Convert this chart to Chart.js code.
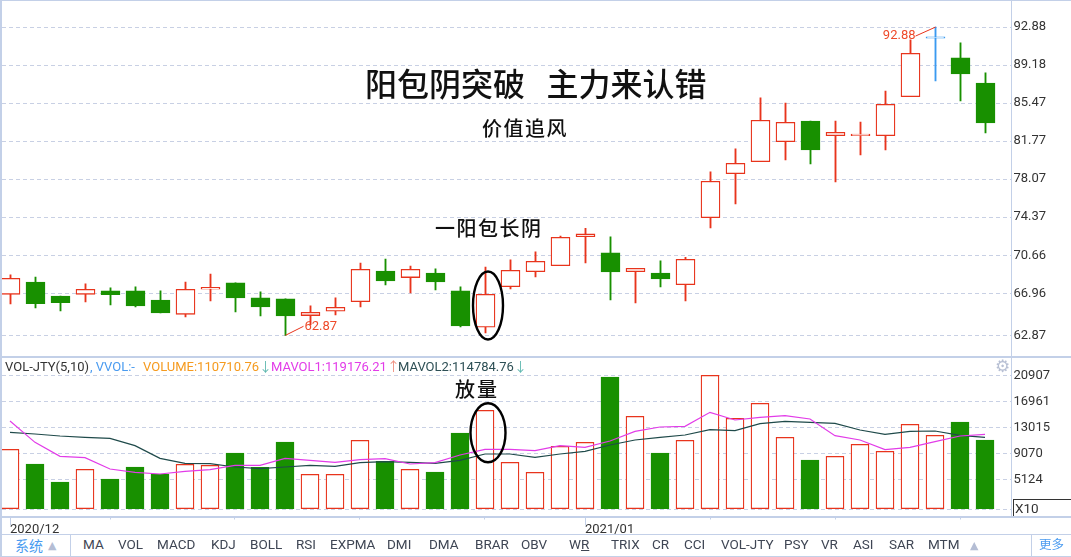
<!DOCTYPE html>
<html>
<head>
<meta charset="utf-8">
<title>VOL-JTY</title>
<script src="https://cdn.jsdelivr.net/npm/chart.js@4"></script>
<style>
    html, body { margin: 0; padding: 0; background: #fff; overflow: hidden; }
    #page { position: relative; width: 1071px; height: 557px; font-family: Roboto, 'Noto Sans CJK SC', sans-serif; color: #333; }
    canvas { position: absolute; left: 0; }
    .rule { position: absolute; background: #c3d0e8; }
    .txt { position: absolute; white-space: pre; line-height: 1; }
    .cjk { font-family: 'Noto Sans CJK SC', sans-serif; color: #111; }
    .legend { font-size: 13px; top: 360px; }
    .tool { font-size: 13.5px; top: 538px; color: #3f4654; }
    .blue { color: #4a9bf0; }
</style>
</head>
<body>
<div id="page">
    <canvas id="price-chart" width="1071" height="357" style="top:0"></canvas>
    <canvas id="volume-chart" width="1071" height="178" style="top:357px"></canvas>

    <div class="rule" style="left:0;top:0;width:1071px;height:1px"></div>
    <div class="rule" style="left:0;top:0;width:2px;height:557px"></div>
    <div class="rule" style="left:0;top:356px;width:1071px;height:2px"></div>
    <div class="rule" style="left:0;top:516px;width:1071px;height:2px"></div>
    <div class="rule" style="left:0;top:534px;width:1071px;height:1px"></div>
    <div class="rule" style="left:0;top:556px;width:1071px;height:1px"></div>
    <div class="rule" style="left:1011px;top:0;width:1px;height:517px"></div>
    <div class="rule" style="left:70px;top:535px;width:1px;height:21px"></div>
    <div class="rule" style="left:1031px;top:535px;width:1px;height:21px"></div>

    <div class="txt cjk" style="left:365px;top:66px;font-size:32px;font-weight:500">阳包阴突破   主力来认错</div>
    <div class="txt cjk" style="left:482px;top:118px;font-size:20px;letter-spacing:1.5px;font-weight:500">价值追风</div>
    <div class="txt cjk" style="left:435px;top:218px;font-size:20px;letter-spacing:1.5px;font-weight:500">一阳包长阴</div>
    <div class="txt cjk" style="left:455px;top:379px;font-size:20px;letter-spacing:2px;font-weight:500">放量</div>

    <div class="txt legend" style="left:5px">VOL-JTY(5,10)</div>
    <div class="txt legend" style="left:90px;color:#4a9bf0">, VVOL:-</div>
    <div class="txt legend" style="left:143px;color:#f59a1e">VOLUME:110710.76<span style="color:#5fb8b0">↓</span></div>
    <div class="txt legend" style="left:271px;color:#e23ce8">MAVOL1:119176.21<span style="color:#f09080">↑</span></div>
    <div class="txt legend" style="left:398px;color:#2d4f55">MAVOL2:114784.76<span style="color:#5fb8b0">↓</span></div>
    <div class="txt" style="left:995px;top:358px;font-size:17px;color:#b8c0d4;font-family:'DejaVu Sans'">⚙</div>

    <div style="position:absolute;left:1013px;top:499px;width:58px;height:17px;border-top:1px solid #333;border-left:1px solid #333;box-sizing:border-box"></div>
    <div class="txt" style="left:1015px;top:502px;font-size:13.5px">X10</div>

    <div class="txt cjk blue" style="left:15px;top:538px;font-size:14px;color:#4a9bf0">系统</div>
    <div class="txt" style="left:48px;top:540px;font-size:11px;color:#b4bdd4;font-family:'DejaVu Sans'">▲</div>
    <div class="txt" style="left:970px;top:540px;font-size:11px;color:#b4bdd4;font-family:'DejaVu Sans'">▲</div>
    <div class="txt cjk blue" style="left:1039px;top:538px;font-size:12.5px;color:#4a9bf0">更多</div>
</div>

<script>
'use strict';

// Daily candles, oldest first
const opens  = [66.86, 68.06, 66.70, 66.86, 67.19, 67.19, 66.31, 64.91, 67.35, 67.97, 66.51, 66.41, 64.79, 65.21, 66.15, 69.13, 68.49, 68.94, 67.19, 63.65,
                67.61, 69.07, 69.65, 72.48, 70.89, 69.07, 68.94, 67.80, 74.33, 78.61, 79.78, 81.73, 83.74, 82.31, 82.31, 82.31, 86.11, 91.79, 89.88, 87.44];
const closes = [68.42, 65.95, 66.05, 67.35, 66.83, 65.73, 65.04, 67.35, 67.54, 66.51, 65.63, 64.75, 65.11, 65.60, 69.30, 68.16, 69.30, 68.06, 63.78, 66.86,
                69.20, 70.08, 72.41, 72.74, 69.04, 69.39, 68.36, 70.27, 77.87, 79.62, 83.81, 83.61, 80.92, 82.64, 82.44, 85.36, 90.33, 91.79, 88.32, 83.55];
const highs  = [68.75, 68.55, 66.70, 67.87, 67.48, 67.58, 67.19, 68.06, 68.84, 67.97, 67.09, 66.41, 65.73, 66.51, 69.91, 70.30, 69.62, 69.33, 67.58, 69.52,
                70.21, 70.99, 72.54, 73.29, 72.45, 69.39, 70.11, 70.47, 78.78, 81.02, 85.98, 85.49, 83.74, 83.74, 83.64, 86.66, 91.63, 92.88, 91.34, 88.42];
const lows   = [65.92, 65.53, 65.24, 66.12, 65.82, 65.63, 65.04, 64.66, 66.21, 65.14, 64.75, 62.87, 63.88, 64.85, 65.63, 67.77, 66.99, 67.28, 63.68, 63.10,
                67.38, 68.55, 69.65, 69.91, 66.31, 66.02, 67.58, 66.21, 73.32, 75.66, 79.78, 79.94, 79.55, 77.80, 80.43, 80.92, 86.11, 87.64, 85.69, 82.57];

// Volume pane
const volumes = [9674, 7447, 4715, 6638, 5170, 6992, 5929, 7397, 7245, 9117, 6941, 10787, 5879, 5879, 11040, 7852, 6638, 6233, 12153, 15594,
                 7700, 6182, 10129, 10736, 20654, 14683, 9117, 11040, 20907, 14380, 16657, 11495, 8055, 8611, 10433, 9370, 13469, 11799, 13823, 11091];
const mavol1  = [13975, 10736, 8611, 8409, 6688, 6182, 5929, 6334, 6587, 7245, 7245, 8308, 8004, 7700, 8105, 8257, 7447, 7650, 8814, 9674,
                 9674, 9471, 10230, 9977, 10939, 12406, 13064, 13165, 15290, 14127, 14531, 14784, 14278, 11748, 11091, 9623, 9977, 10838, 11698, 11951];
const mavol2  = [12254, 12001, 11698, 11495, 11344, 10230, 8308, 7549, 7498, 6992, 6739, 6992, 7245, 7093, 7650, 7802, 7700, 7549, 8004, 8965,
                 8965, 8459, 8965, 9370, 10332, 11091, 11495, 11850, 12659, 12507, 13570, 13924, 13772, 13621, 12609, 11951, 12406, 12457, 11799, 11495];

// Axis ticks
const priceTicks  = [62.87, 66.96, 70.66, 74.37, 78.07, 81.77, 85.47, 89.18, 92.88];
const volumeTicks = [570, 5124, 9070, 13015, 16961, 20907];
const dateTicks   = [0, 4, 9, 14, 19, 23, 28, 33, 38];
const dateLabels  = ['2020/12', '', '', '', '', '2021/01', '', '', ''];

// Bottom toolbar
const toolNames = ['MA', 'VOL', 'MACD', 'KDJ', 'BOLL', 'RSI', 'EXPMA', 'DMI', 'DMA', 'BRAR', 'OBV', 'WR', 'TRIX', 'CR', 'CCI', 'VOL-JTY', 'PSY', 'VR', 'ASI', 'SAR', 'MTM'];
const toolLefts = [83, 118, 157, 211, 250, 296, 330, 387, 429, 475, 521, 569, 611, 652, 684, 721, 784, 821, 853, 889, 928];

// Colours
const RED = '#e8341c';
const GREEN = '#189000';
const BLUE = '#3a9af0';
const GRID = '#c8d0e4';
const LABEL_FONT = { family: 'Roboto', size: 13 };

const page = document.getElementById('page');
toolNames.forEach((name, i) => {
    const el = document.createElement('div');
    el.className = 'txt tool';
    el.style.left = toolLefts[i] + 'px';
    el.innerHTML = name === 'WR' ? 'W<u>R</u>' : name;
    page.appendChild(el);
});

function candleColor(i) {
    if (opens[i] === closes[i]) return BLUE;
    return closes[i] > opens[i] ? RED : GREEN;
}

function fixedTicks(values) {
    return scale => { scale.ticks = values.map(v => ({ value: v })); };
}

// Keep the plot area exact: no room reserved for the first and last tick label
function noLabelPadding(scale) {
    scale.paddingTop = 0;
    scale.paddingBottom = 0;
    scale.paddingLeft = 0;
    scale.paddingRight = 0;
}

// Red labels for the lowest and highest price, with their small leader lines
const extremesPlugin = {
    id: 'extremes',
    afterDatasetsDraw(chart) {
        const { ctx, scales } = chart;
        const lowIdx = lows.indexOf(Math.min(...lows));
        const highIdx = highs.indexOf(Math.max(...highs));
        const lx = scales.x.getPixelForValue(lowIdx), ly = scales.y.getPixelForValue(lows[lowIdx]);
        const hx = scales.x.getPixelForValue(highIdx), hy = scales.y.getPixelForValue(highs[highIdx]);

        ctx.save();
        ctx.strokeStyle = RED;
        ctx.lineWidth = 1;
        ctx.beginPath();
        ctx.moveTo(lx, ly);
        ctx.lineTo(lx + 18, ly - 9);
        ctx.moveTo(hx, hy);
        ctx.lineTo(hx - 20, hy + 9);
        ctx.stroke();

        ctx.fillStyle = '#ee4a2a';
        ctx.font = '13px Roboto';
        ctx.textBaseline = 'middle';
        ctx.textAlign = 'left';
        ctx.fillText(lows[lowIdx].toFixed(2), lx + 19, ly - 9);
        ctx.textAlign = 'right';
        ctx.fillText(highs[highIdx].toFixed(2), hx - 20, hy + 9);
        ctx.restore();
    }
};

// Hand drawn black ellipse on the breakout candle and its volume bar
function ellipsePlugin(cx, cy, rx, ry) {
    return {
        id: 'ellipse',
        afterDatasetsDraw(chart) {
            const ctx = chart.ctx;
            ctx.save();
            ctx.strokeStyle = '#000';
            ctx.lineWidth = 2.4;
            ctx.beginPath();
            ctx.ellipse(cx, cy, rx, ry, 0, 0, Math.PI * 2);
            ctx.stroke();
            ctx.restore();
        }
    };
}

// Date ticks under the volume pane: long where there is a label
const dateTickPlugin = {
    id: 'dateTicks',
    afterDraw(chart) {
        const { ctx, scales, chartArea } = chart;
        ctx.save();
        ctx.strokeStyle = '#c3d0e8';
        ctx.lineWidth = 1;
        dateTicks.forEach((tick, i) => {
            const x = Math.floor(scales.x.getPixelForValue(tick)) + 0.5;
            ctx.beginPath();
            ctx.moveTo(x, chartArea.bottom + 1);
            ctx.lineTo(x, chartArea.bottom + (dateLabels[i] ? 9 : 3));
            ctx.stroke();
        });
        ctx.restore();
    }
};

function yScale(min, max, ticks, format) {
    return {
        position: 'right',
        min: min,
        max: max,
        afterBuildTicks: fixedTicks(ticks),
        afterFit(scale) {
            scale.width = 59.5;
            noLabelPadding(scale);
        },
        grid: { color: GRID, drawTicks: false },
        border: { display: false, dash: [4, 3] },
        ticks: { color: '#333', font: LABEL_FONT, padding: 2, autoSkip: false, callback: format }
    };
}

new Chart(document.getElementById('price-chart'), {
    type: 'bar',
    data: {
        datasets: [
            {
                label: 'body',
                order: 1,
                grouped: false,
                data: opens.map((o, i) => ({ x: i, y: [o, closes[i]] })),
                barThickness: 19,
                minBarLength: 1.5,
                borderWidth: 1.3,
                borderSkipped: false,
                borderColor: opens.map((o, i) => candleColor(i)),
                backgroundColor: opens.map((o, i) => (candleColor(i) === GREEN ? GREEN : '#fff'))
            },
            {
                label: 'wick',
                order: 2,
                grouped: false,
                data: highs.map((h, i) => ({ x: i, y: [lows[i], h] })),
                barThickness: 1.2,
                borderWidth: 0,
                backgroundColor: opens.map((o, i) => candleColor(i))
            }
        ]
    },
    options: {
        responsive: false,
        animation: false,
        layout: { padding: { left: 2, top: 1, right: 0, bottom: 1 } },
        plugins: { legend: { display: false }, tooltip: { enabled: false } },
        scales: {
            x: { type: 'linear', display: false, min: -0.34, max: 40.04, offset: false, grid: { display: false, offset: false } },
            y: yScale(60.854, 95.42, priceTicks, v => Number(v).toFixed(2))
        }
    },
    plugins: [extremesPlugin, ellipsePlugin(488, 305.5, 15, 34)]
});

new Chart(document.getElementById('volume-chart'), {
    type: 'bar',
    data: {
        datasets: [
            {
                type: 'line',
                label: 'MAVOL1',
                order: 1,
                data: mavol1.map((v, i) => ({ x: i, y: v })),
                borderColor: '#e23ce8',
                borderWidth: 1.2,
                pointRadius: 0,
                tension: 0
            },
            {
                type: 'line',
                label: 'MAVOL2',
                order: 2,
                data: mavol2.map((v, i) => ({ x: i, y: v })),
                borderColor: '#1f4a4a',
                borderWidth: 1.2,
                pointRadius: 0,
                tension: 0
            },
            {
                label: 'VOLUME',
                order: 3,
                data: volumes.map((v, i) => ({ x: i, y: v })),
                base: 660,
                barThickness: 18,
                borderWidth: 1.3,
                borderSkipped: false,
                borderColor: volumes.map((v, i) => (closes[i] >= opens[i] ? RED : GREEN)),
                backgroundColor: volumes.map((v, i) => (closes[i] >= opens[i] ? '#fff' : GREEN))
            }
        ]
    },
    options: {
        responsive: false,
        animation: false,
        layout: { padding: { left: 2, top: 1, right: 0, bottom: 0 } },
        plugins: { legend: { display: false }, tooltip: { enabled: false } },
        scales: {
            x: {
                type: 'linear',
                position: 'bottom',
                min: -0.32,
                max: 40.06,
                offset: false,
                afterBuildTicks: fixedTicks(dateTicks),
                afterFit(scale) {
                    scale.height = 18.5;
                    noLabelPadding(scale);
                },
                grid: { display: false, drawTicks: false, offset: false },
                border: { display: false },
                ticks: {
                    color: '#333',
                    font: LABEL_FONT,
                    padding: 5,
                    align: 'start',
                    autoSkip: false,
                    maxRotation: 0,
                    callback: v => dateLabels[dateTicks.indexOf(v)]
                }
            },
            y: yScale(-518, 23537, volumeTicks, v => (v === volumeTicks[0] ? '' : String(v)))
        }
    },
    plugins: [ellipsePlugin(488, 75.8, 17.5, 29.5), dateTickPlugin]
});
</script>
</body>
</html>
